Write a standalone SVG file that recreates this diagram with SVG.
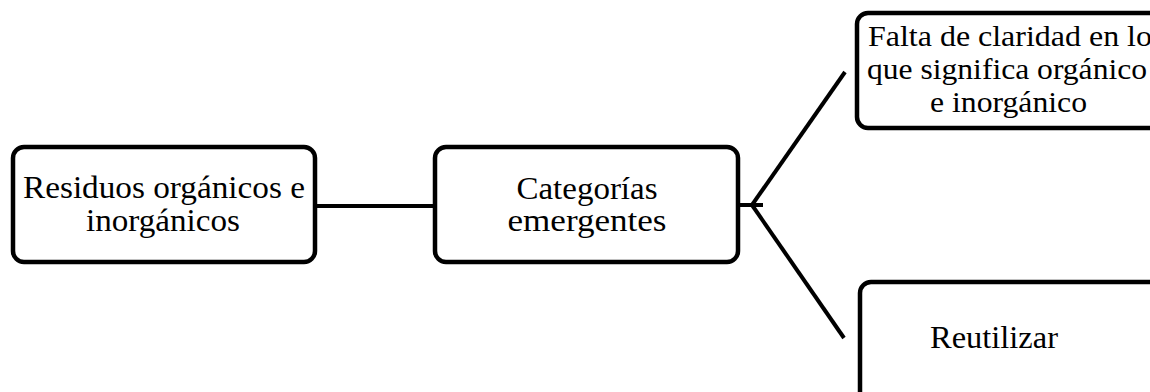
<svg xmlns="http://www.w3.org/2000/svg" width="1150" height="392" viewBox="0 0 1150 392">
<style>
.box{fill:#fff;stroke:#000;stroke-width:4.5}
.ln{stroke:#000;stroke-width:4;fill:none}
.t{font-family:"Liberation Serif","Times New Roman",serif;font-size:31.5px;fill:#000;text-anchor:middle}
.tt{font-family:"Liberation Serif","Times New Roman",serif;font-size:29px;fill:#000}
</style>
<rect width="1150" height="392" fill="#fff"/>
<g id="connectors">
<line class="ln" x1="315" y1="206" x2="435" y2="206"/>
<line class="ln" x1="738" y1="205" x2="763" y2="205"/>
<line class="ln" x1="752" y1="205" x2="845" y2="72"/>
<line class="ln" x1="752" y1="205" x2="844" y2="338"/>
</g>
<g id="n1">
<rect class="box" x="13" y="147" width="302" height="115" rx="11"/>
<text class="t" x="164" y="198" textLength="282" lengthAdjust="spacingAndGlyphs">Residuos orgánicos e</text>
<text class="t" x="163" y="231" textLength="154" lengthAdjust="spacingAndGlyphs">inorgánicos</text>
</g>
<g id="n2">
<rect class="box" x="435" y="147" width="303" height="115" rx="11"/>
<text class="t" x="587" y="199" textLength="141" lengthAdjust="spacingAndGlyphs">Categorías</text>
<text class="t" x="587" y="231" textLength="159" lengthAdjust="spacingAndGlyphs">emergentes</text>
</g>
<g id="n3">
<rect class="box" x="857" y="13" width="320" height="115" rx="11"/>
<text class="tt" x="868" y="46" textLength="284" lengthAdjust="spacingAndGlyphs">Falta de claridad en lo</text>
<text class="tt" x="867" y="79" textLength="280" lengthAdjust="spacingAndGlyphs">que significa orgánico</text>
<text class="tt" x="930" y="112" textLength="157" lengthAdjust="spacingAndGlyphs">e inorgánico</text>
</g>
<g id="n4">
<rect class="box" x="860" y="282" width="320" height="130" rx="11"/>
<text class="t" x="994" y="348" textLength="128" lengthAdjust="spacingAndGlyphs">Reutilizar</text>
</g>
</svg>
